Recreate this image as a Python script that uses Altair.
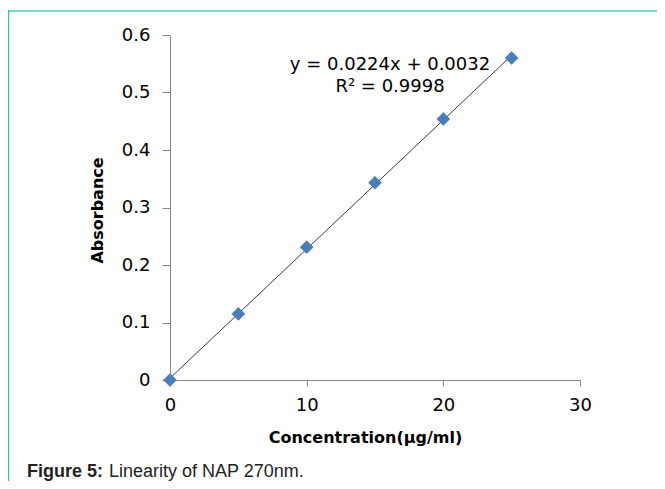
import altair as alt
import pandas as pd

# Data
concentration = [0, 5, 10, 15, 20, 25]
absorbance = [0.0, 0.115, 0.231, 0.343, 0.454, 0.560]
x_ticks = [0, 10, 20, 30]
y_ticks = [0, 0.1, 0.2, 0.3, 0.4, 0.5, 0.6]
equation_lines = ["y = 0.0224x + 0.0032", "R² = 0.9998"]
caption_bold = "Figure 5:"
caption_rest = "Linearity of NAP 270nm."

df = pd.DataFrame({"conc": concentration, "abs": absorbance})

W, H = 410, 345
FONT = "DejaVu Sans"

x_enc = alt.X("conc:Q", scale=alt.Scale(domain=[0, 30], nice=False),
              axis=alt.Axis(values=x_ticks, title="Concentration(µg/ml)",
                            tickSize=6, labelPadding=10, labelFlush=False,
                            titleX=195, titleY=57, titleAlign="center",
                            titleBaseline="middle"))
y_enc = alt.Y("abs:Q", scale=alt.Scale(domain=[0, 0.6], nice=False),
              axis=alt.Axis(values=y_ticks, format=".1~f", title="Absorbance",
                            tickSize=8, labelPadding=12, labelFlush=False,
                            titleX=-73, titleY=175, titleAlign="center",
                            titleBaseline="middle", titleAngle=270))

base = alt.Chart(df)

trend = base.transform_regression("conc", "abs", extent=[0, 25]).mark_line(
    color="#3a3a3a", strokeWidth=1
).encode(x=x_enc, y=y_enc)

points = base.mark_point(shape="diamond", filled=True, size=170, opacity=1,
                         color="#4a7ebb", stroke="#3f6fa8", strokeWidth=0.5).encode(
    x="conc:Q", y="abs:Q")

one = alt.Data(values=[{}])

eq1 = alt.Chart(one).mark_text(font=FONT, fontSize=18, align="center",
                               baseline="alphabetic", color="#000000").encode(
    x=alt.value(220), y=alt.value(35), text=alt.value(equation_lines[0]))
eq2 = alt.Chart(one).mark_text(font=FONT, fontSize=18, align="center",
                               baseline="alphabetic", color="#000000").encode(
    x=alt.value(220), y=alt.value(57), text=alt.value(equation_lines[1]))

cap1 = alt.Chart(one).mark_text(font="Liberation Sans", fontSize=18, fontWeight="bold",
                                align="left", baseline="alphabetic", color="#222222").encode(
    x=alt.value(-143), y=alt.value(442), text=alt.value(caption_bold))
cap2 = alt.Chart(one).mark_text(font="Liberation Sans", fontSize=18,
                                align="left", baseline="alphabetic", color="#222222").encode(
    x=alt.value(-61), y=alt.value(442), text=alt.value(caption_rest))

top_line = alt.Chart(one).mark_rule(color="#80d8c8", strokeWidth=2).encode(
    x=alt.value(-162), x2=alt.value(487), y=alt.value(-24))
left_line = alt.Chart(one).mark_rule(color="#4db6a6", strokeWidth=1.5).encode(
    x=alt.value(-161.5), y=alt.value(-25), y2=alt.value(446))

chart = alt.layer(top_line, left_line, trend, points, eq1, eq2, cap1, cap2).properties(
    width=W, height=H,
    autosize=alt.AutoSizeParams(type="none"),
    padding={"left": 162, "top": 27, "right": 77, "bottom": 101},
).configure_view(stroke=None).configure_axis(
    grid=False, domainColor="#868686", tickColor="#868686",
    labelFont=FONT, labelFontSize=18, labelColor="#000000",
    titleFont=FONT, titleFontSize=16, titleFontWeight="bold", titleColor="#000000",
)

chart.save("out.html", embed_options={"renderer": "svg", "actions": False})
